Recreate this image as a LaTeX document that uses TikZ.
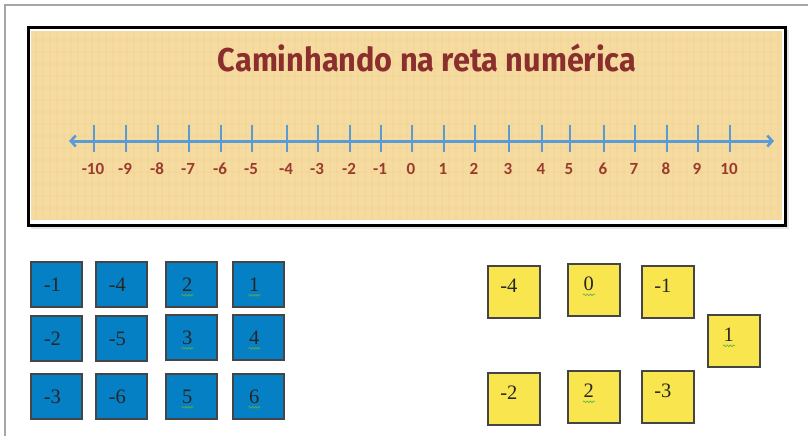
\documentclass[tikz,border=0pt]{standalone}
\usepackage{fontspec}
\setmainfont{Liberation Serif}
\newfontfamily\titlefont{Fira Sans}
\newfontfamily\labfont{Carlito}
\usetikzlibrary{arrows.meta,decorations.pathmorphing}
\definecolor{panelbg}{HTML}{F6DBA0}
\definecolor{titlered}{HTML}{8A2E2E}
\definecolor{labred}{HTML}{9A3B2E}
\definecolor{lineblue}{HTML}{5B9BD5}
\definecolor{boxblue}{HTML}{0680C4}
\definecolor{boxyellow}{HTML}{F9E64E}
\definecolor{boxedge}{HTML}{454545}
\definecolor{squig}{HTML}{5DAF4A}
\tikzset{
  x=1pt, y=-1pt,
  tile/.style={draw=boxedge, line width=1.6pt, anchor=north west, inner sep=0pt,
     minimum width=#1},
  bluetile/.style={tile=51pt, fill=boxblue, minimum height=45pt},
  yellowtile/.style={tile=52pt, fill=boxyellow, minimum height=52pt},
  numtxt/.style={inner sep=0pt, anchor=base, font=\fontsize{20.5}{21}\selectfont, text=black!85},
  ticklab/.style={inner sep=0pt, anchor=base, font=\labfont\bfseries\fontsize{17}{17}\selectfont, text=labred},
  tickmark/.style={draw=lineblue, line width=2.6pt},
  squiggle/.style={draw=squig, line width=0.6pt, decorate,
     decoration={snake, amplitude=0.9pt, segment length=3.2pt}},
}
\newcommand{\sqline}[1]{\path[squiggle] ([xshift=-0.5pt,yshift=-4pt]#1.base west) -- ([xshift=1pt,yshift=-4pt]#1.base east);}
\begin{document}
\begin{tikzpicture}
\useasboundingbox (0,0) rectangle (808,436);
\fill[white] (0,0) rectangle (808,436);
% outer frame
\draw[gray!70, line width=1.3pt] (5,440) -- (5,5) -- (812,5);
% panel
\fill[black!10] (31,30) rectangle (789,229);
\draw[black, line width=3pt, fill=white] (28,28) rectangle (785,225);
\fill[panelbg] (31,31) rectangle (782,220);
\foreach \i in {36,43,...,780} \draw[orange!40!brown, opacity=0.045, line width=2pt] (\i,31) -- (\i,220);
\foreach \j in {40,52,...,218} \draw[orange!40!brown, opacity=0.025, line width=1.5pt] (31,\j) -- (782,\j);
\node[inner sep=0pt, anchor=base, text=titlered] (title) at (427,71)
  {\scalebox{0.93}[1]{\titlefont\bfseries\fontsize{33}{33}\selectfont Caminhando na reta numérica}};
% number line
\coordinate (L) at (69,141);
\coordinate (R) at (774,141);
\draw[draw=lineblue, line width=3pt, {Straight Barb[length=5pt,width=11pt,line width=2.6pt]}-{Straight Barb[length=5pt,width=11pt,line width=2.6pt]}] (L) -- (R);
\foreach \v/\x [count=\k] in {-10/94,-9/126,-8/158,-7/189,-6/221,-5/252,-4/287,-3/318,-2/350,-1/381,0/412,1/444,2/475,3/509,4/542,5/570,6/604,7/635,8/667,9/698,10/730}{
  \draw[tickmark] (\x,125) -- (\x,152);
  \node[ticklab] (n\k) at (\x-1,174) {\v};
}
% blue tiles
\foreach \name/\x/\y/\t/\pos in {b1/30/261/-1/0, b2/95/261/-4/0, b3/165/261/2/1, b4/232/261/1/1,
  b5/30/315/-2/0, b6/95/315/-5/0, b7/165/314/3/1, b8/232/314/4/1,
  b9/30/373/-3/0, b10/95/373/-6/0, b11/165/373/5/1, b12/232/373/6/1}{
  \fill[black!15] (\x+1.5,\y+1.5) rectangle (\x+53,\y+47);
  \node[bluetile] (\name) at (\x,\y) {};
  \node[numtxt] (t\name) at ([xshift=-4pt,yshift=-7pt]\name.center) {\t};
  \ifnum\pos=1 \sqline{t\name}\fi
}
% yellow tiles
\foreach \name/\x/\y/\t/\pos in {y1/487/265/-4/0, y2/567/263/0/1, y3/641/265/-1/0,
  y4/707/314/1/1, y5/487/372/-2/0, y6/567/370/2/1, y7/641/370/-3/0}{
  \fill[black!15] (\x+1.5,\y+1.5) rectangle (\x+54,\y+54);
  \node[yellowtile] (\name) at (\x,\y) {};
  \node[numtxt] (t\name) at ([xshift=-5pt,yshift=-1pt]\name.center) {\t};
  \ifnum\pos=1 \sqline{t\name}\fi
}
\end{tikzpicture}
\end{document}
